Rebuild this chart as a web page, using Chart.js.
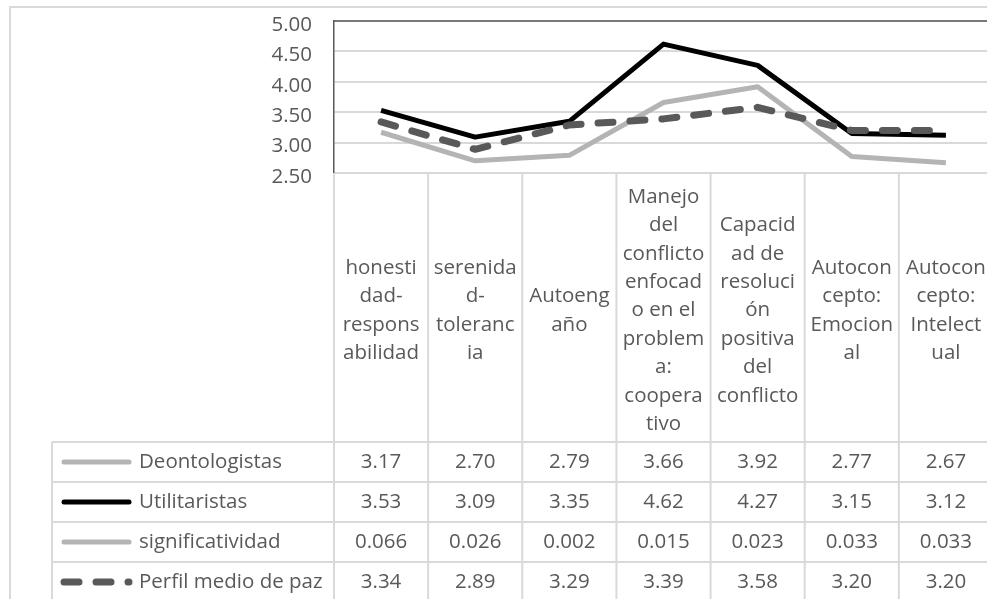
<!DOCTYPE html>
<html>
<head>
<meta charset="utf-8">
<script src="https://cdn.jsdelivr.net/npm/chart.js@4.4.0/dist/chart.umd.min.js"></script>
<style>
  html, body { margin: 0; padding: 0; background: #fff; overflow: hidden; }
  canvas { display: block; }
</style>
</head>
<body>
<canvas id="chart" width="1000" height="599"></canvas>
<script>
// category labels, wrapped the way the table cells show them
const categories = [
  ["honesti", "dad-", "respons", "abilidad"],
  ["serenida", "d-", "toleranc", "ia"],
  ["Autoeng", "año"],
  ["Manejo", "del", "conflicto", "enfocad", "o en el", "problem", "a:", "coopera", "tivo"],
  ["Capacid", "ad de", "resoluci", "ón", "positiva", "del", "conflicto"],
  ["Autocon", "cepto:", "Emocion", "al"],
  ["Autocon", "cepto:", "Intelect", "ual"]
];
const deontologistas = [3.17, 2.70, 2.79, 3.66, 3.92, 2.77, 2.67];
const utilitaristas = [3.53, 3.09, 3.35, 4.62, 4.27, 3.15, 3.12];
const significatividad = [0.066, 0.026, 0.002, 0.015, 0.023, 0.033, 0.033];
const perfilMedio = [3.34, 2.89, 3.29, 3.39, 3.58, 3.20, 3.20];
const tableDecimals = [2, 2, 3, 2];
const yMin = 2.5, yMax = 5, yStep = 0.5;

const FONT_FAMILY = '"Open Sans", sans-serif';
const FONT_SIZE = 20.5;
const TEXT = "#595959";
const GRID = "#d9d9d9";

function line(ctx, x1, y1, x2, y2) {
  ctx.beginPath();
  ctx.moveTo(x1, y1);
  ctx.lineTo(x2, y2);
  ctx.stroke();
}

// Excel style data table under the plot, with the legend keys in its first column
const dataTable = {
  id: "dataTable",
  beforeDraw(chart) {
    const ctx = chart.ctx;
    ctx.save();
    ctx.strokeStyle = GRID;
    ctx.lineWidth = 2;
    ctx.strokeRect(10, 7, 2000, 2000);
    ctx.restore();
  },
  afterDraw(chart) {
    const ctx = chart.ctx;
    const area = chart.chartArea;
    const x = chart.scales.x;
    const n = categories.length;
    const colW = (area.right - area.left) / n;
    const headBottom = 442, rowH = 40, legendLeft = 52, lineH = 28.4;
    const sets = chart.data.datasets;

    ctx.save();
    ctx.strokeStyle = GRID;
    ctx.lineWidth = 2;
    for (let i = 0; i <= n; i++) {
      const px = area.left + i * colW;
      line(ctx, px, area.bottom, px, 2000);
    }
    line(ctx, legendLeft, headBottom, legendLeft, 2000);
    for (let r = 0; r <= sets.length; r++) {
      const py = headBottom + r * rowH;
      line(ctx, legendLeft, py, area.right, py);
    }

    // plot top border
    ctx.strokeStyle = TEXT;
    ctx.lineWidth = 1.5;
    line(ctx, area.left, area.top, area.right, area.top);

    ctx.font = FONT_SIZE + "px " + FONT_FAMILY;
    ctx.fillStyle = TEXT;
    ctx.textAlign = "center";
    ctx.textBaseline = "middle";
    const headMid = (area.bottom + headBottom) / 2 + 3;
    categories.forEach((lines, i) => {
      const cx = x.getPixelForValue(i);
      lines.forEach((t, j) => {
        ctx.fillText(t, cx, headMid + (j - (lines.length - 1) / 2) * lineH);
      });
    });

    sets.forEach((ds, r) => {
      const cy = headBottom + r * rowH + rowH / 2;
      ds.data.forEach((v, i) => {
        ctx.fillText(v.toFixed(tableDecimals[r]), x.getPixelForValue(i), cy);
      });
      // legend key
      ctx.save();
      ctx.strokeStyle = ds.borderColor;
      ctx.lineWidth = ds.borderWidth;
      ctx.lineCap = "round";
      ctx.setLineDash(ds.borderDash || []);
      line(ctx, 64, cy, 129, cy);
      ctx.restore();
      ctx.textAlign = "left";
      ctx.fillText(ds.label, 139, cy);
      ctx.textAlign = "center";
    });
    ctx.restore();
  }
};

new Chart(document.getElementById("chart"), {
  type: "line",
  data: {
    labels: categories.map(l => l.join("")),
    datasets: [
      {label: "Deontologistas", data: deontologistas, borderColor: "#b4b4b4", borderWidth: 5, order: 4},
      {label: "Utilitaristas", data: utilitaristas, borderColor: "#000000", borderWidth: 5, order: 3},
      {label: "significatividad", data: significatividad, borderColor: "#b4b4b4", borderWidth: 5, order: 2},
      {label: "Perfil medio de paz", data: perfilMedio, borderColor: "#595959", borderWidth: 7,
        borderDash: [15, 17], borderCapStyle: "round", order: 1}
    ].map(d => Object.assign({pointRadius: 0, tension: 0, borderJoinStyle: "round", fill: false}, d))
  },
  options: {
    responsive: false,
    animation: false,
    events: [],
    layout: {padding: {left: 0, top: 21, right: 7, bottom: 426}},
    plugins: {legend: {display: false}, tooltip: {enabled: false}},
    scales: {
      x: {display: false, offset: true},
      y: {
        min: yMin, max: yMax,
        afterFit(scale) {
          scale.width = 334;
          scale.paddingTop = 0;
          scale.paddingBottom = 0;
        },
        grid: {color: GRID, lineWidth: 2, drawTicks: false},
        border: {color: TEXT, width: 1.5},
        ticks: {
          stepSize: yStep,
          padding: 22,
          labelOffset: 4,
          color: TEXT,
          font: {family: FONT_FAMILY, size: FONT_SIZE},
          callback: v => Number(v).toFixed(2)
        }
      }
    }
  },
  plugins: [dataTable]
});
</script>
</body>
</html>
